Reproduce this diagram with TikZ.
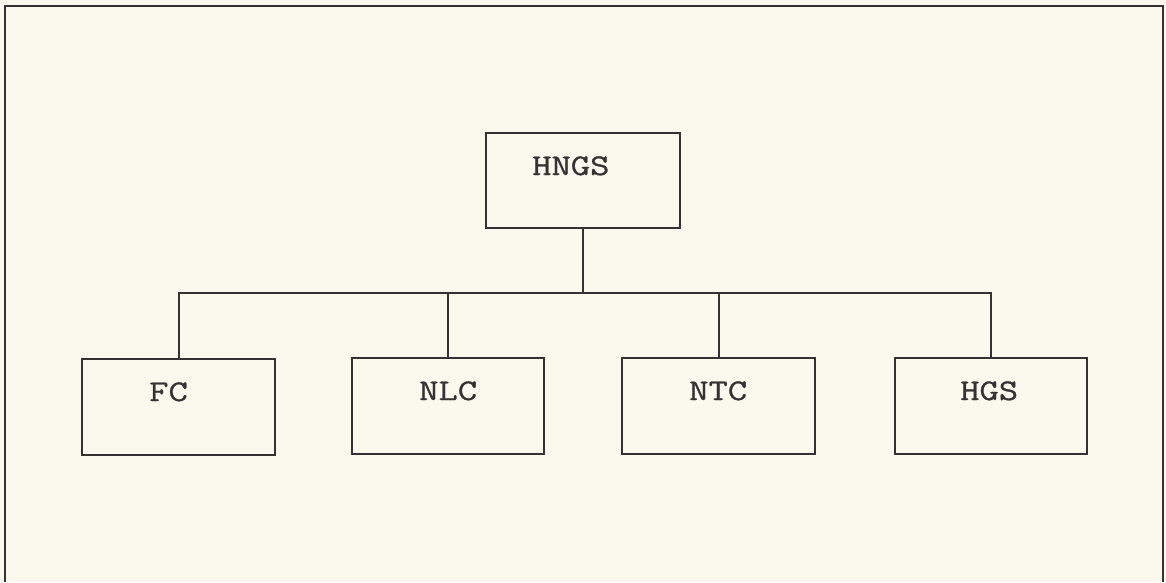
\documentclass[tikz,border=0pt]{standalone}
\usepackage{fontspec}
\newfontfamily\courfont[FakeStretch=1.25,FakeBold=1]{Latin Modern Mono}
\definecolor{paper}{HTML}{FAF9EE}
\definecolor{ink}{HTML}{333333}
\tikzset{
  box/.style={draw=ink, line width=2pt, rectangle, inner sep=0pt},
  lbl/.style={font=\courfont\fontsize{30}{34}\selectfont, text=ink, inner sep=0pt, anchor=base west},
  conn/.style={draw=ink, line width=2pt}
}
\begin{document}
\begin{tikzpicture}[x=1pt,y=-1pt]
\fill[paper] (0,0) rectangle (1166,582);
\useasboundingbox (0,0) rectangle (1166,582);
% frame (open at the bottom)
\draw[conn] (5,582) -- (5,6) -- (1163,6) -- (1163,582);
% boxes
\node[box, minimum width=194pt, minimum height=95pt] (hngs) at (583,180.5) {};
\node[box, minimum width=193pt, minimum height=96pt] (fc) at (178.5,407) {};
\node[box, minimum width=192pt, minimum height=96pt] (nlc) at (448,406) {};
\node[box, minimum width=193pt, minimum height=96pt] (ntc) at (718.5,406) {};
\node[box, minimum width=192pt, minimum height=96pt] (hgs) at (991,406) {};
% labels
\node[lbl] (thngs) at ([xshift=47pt,yshift=-43pt]hngs.north west) {HNGS};
\node[lbl] (tfc) at ([xshift=68pt,yshift=-43pt]fc.north west) {FC};
\node[lbl] (tnlc) at ([xshift=68pt,yshift=-43pt]nlc.north west) {NLC};
\node[lbl] (tntc) at ([xshift=68pt,yshift=-43pt]ntc.north west) {NTC};
\node[lbl] (thgs) at ([xshift=66pt,yshift=-43pt]hgs.north west) {HGS};
% connectors
\coordinate (bus) at (583,293);
\draw[conn] (hngs.south) -- (bus);
\draw[conn] (fc.north) |- (bus) -| (hgs.north);
\draw[conn] (nlc.north) -- (nlc.north |- bus);
\draw[conn] (ntc.north) -- (ntc.north |- bus);
\end{tikzpicture}
\end{document}
